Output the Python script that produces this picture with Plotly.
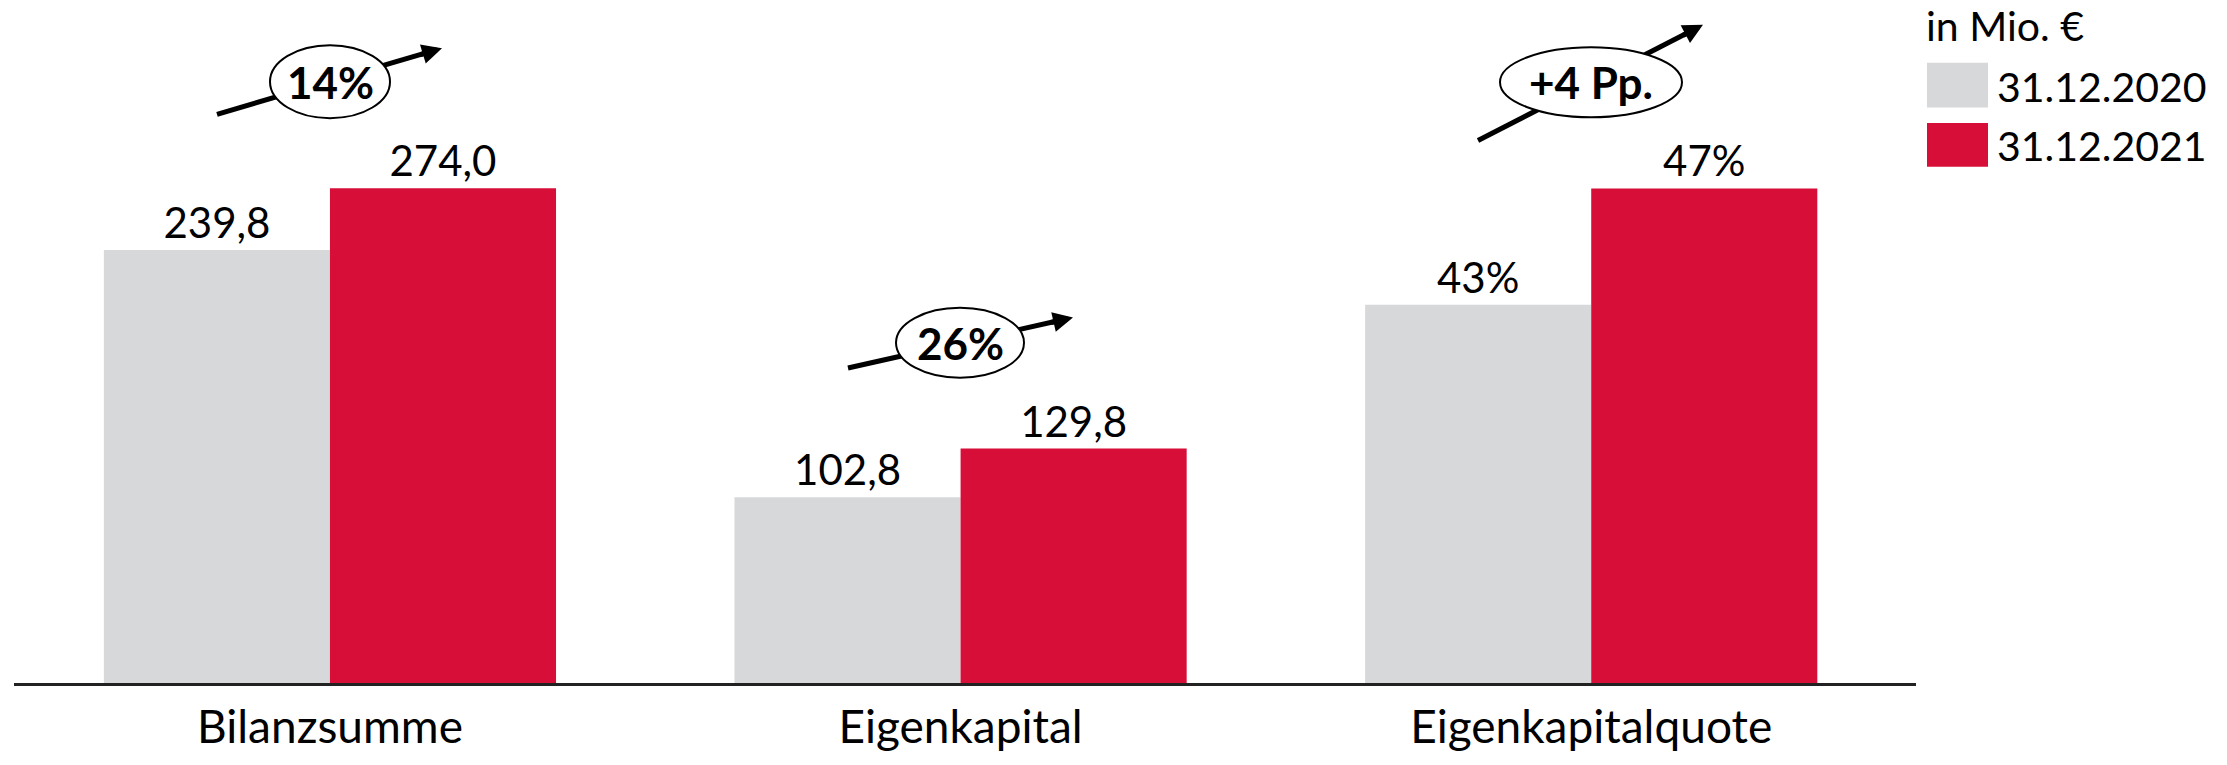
import plotly.graph_objects as go

# ---------------- data ----------------
categories = ["Bilanzsumme", "Eigenkapital", "Eigenkapitalquote"]
series_names = ["31.12.2020", "31.12.2021"]
amount_categories = ["Bilanzsumme", "Eigenkapital"]
amount_2020 = [239.8, 102.8]          # in Mio. €
amount_2021 = [274.0, 129.8]          # in Mio. €
quote_categories = ["Eigenkapitalquote"]
quote_2020 = [43]                     # in %
quote_2021 = [47]                     # in %
change_labels = ["14%", "26%", "+4 Pp."]
unit_label = "in Mio. €"

# ---------------- style ----------------
GRAY = "#D7D8DA"
RED = "#D70E37"
FONT = "Lato"
W, H = 2227, 765
L, R, T, B = 14, 311, 20, 63
PW, PH = W - L - R, H - T - B

def xp(px):
    return (px - L) / PW

def yp(py):
    return (H - B - py) / PH

fig = go.Figure()
label_font = dict(size=42, color="black", family=FONT)
fig.add_trace(go.Bar(x=amount_categories, y=amount_2020, name=series_names[0],
                     marker=dict(color=GRAY, line=dict(width=0)),
                     texttemplate="%{y:.1f}", textposition="outside",
                     outsidetextfont=label_font))
fig.add_trace(go.Bar(x=amount_categories, y=amount_2021, name=series_names[1],
                     marker=dict(color=RED, line=dict(width=0)),
                     texttemplate="%{y:.1f}", textposition="outside",
                     outsidetextfont=label_font))
fig.add_trace(go.Bar(x=quote_categories, y=quote_2020, name=series_names[0], yaxis="y2",
                     marker=dict(color=GRAY, line=dict(width=0)), showlegend=False,
                     texttemplate="%{y:.0f}%", textposition="outside",
                     outsidetextfont=label_font))
fig.add_trace(go.Bar(x=quote_categories, y=quote_2021, name=series_names[1], yaxis="y2",
                     marker=dict(color=RED, line=dict(width=0)), showlegend=False,
                     texttemplate="%{y:.0f}%", textposition="outside",
                     outsidetextfont=label_font))

shapes = []
annotations = []

# change callouts: (tail px, head px, ellipse box px)
callouts = [
    ((217, 117), (442, 49), (270, 46, 390, 121)),
    ((848, 378), (1073, 326), (896, 316, 1024, 388)),
    ((1478, 144), (1703, 25), (1500, 48, 1682, 120)),
]
for label, (tail, head, ell) in zip(change_labels, callouts):
    dx, dy = head[0] - tail[0], head[1] - tail[1]
    n = (dx * dx + dy * dy) ** 0.5
    ux, uy = dx / n, dy / n
    end = (head[0] - ux * 14, head[1] - uy * 14)
    shapes.append(dict(type="line", xref="paper", yref="paper",
                       x0=xp(tail[0]), y0=yp(tail[1]), x1=xp(end[0]), y1=yp(end[1]),
                       line=dict(color="black", width=5)))
    shapes.append(dict(type="circle", xref="paper", yref="paper",
                       x0=xp(ell[0]), x1=xp(ell[2]), y0=yp(ell[3]), y1=yp(ell[1]),
                       fillcolor="white", line=dict(color="black", width=2)))
    annotations.append(dict(xref="paper", yref="paper", x=xp(head[0]), y=yp(head[1]),
                            text="", showarrow=True, arrowhead=2, arrowsize=0.8,
                            arrowwidth=5, arrowcolor="black", standoff=0,
                            ax=-ux * 24, ay=-uy * 24))
    annotations.append(dict(xref="paper", yref="paper",
                            x=xp((ell[0] + ell[2]) / 2), y=yp((ell[1] + ell[3]) / 2),
                            text="<b>%s</b>" % label, showarrow=False,
                            xanchor="center", yanchor="middle",
                            font=dict(size=44, color="black", family=FONT)))

# custom legend
annotations.append(dict(xref="paper", yref="paper", x=xp(1924), y=yp(26),
                        text=unit_label, showarrow=False, xanchor="left", yanchor="middle",
                        font=dict(size=41, color="black", family=FONT)))
legend_rows = [(GRAY, series_names[0], 64, 110), (RED, series_names[1], 126, 171)]
for color, name, y0, y1 in legend_rows:
    shapes.append(dict(type="rect", xref="paper", yref="paper",
                       x0=xp(1927), x1=xp(1988), y0=yp(y1), y1=yp(y0),
                       fillcolor=color, line=dict(width=0)))
    annotations.append(dict(xref="paper", yref="paper", x=xp(1995), y=yp((y0 + y1) / 2 + 1),
                            text=name, showarrow=False, xanchor="left", yanchor="middle",
                            font=dict(size=41, color="black", family=FONT)))

px_per_unit = 509.0 / 274.0
px_per_pp = (509.0 - 389.3) / (quote_2021[0] - quote_2020[0])
fig.update_layout(
    width=W, height=H,
    margin=dict(l=L, r=R, t=T, b=B, pad=0),
    paper_bgcolor="white", plot_bgcolor="white",
    barmode="group", bargap=0.283, bargroupgap=0,
    separators=",.",
    showlegend=False,
    hovermode=False,
    font=dict(family=FONT, color="black", size=44),
    xaxis=dict(type="category", categoryorder="array", categoryarray=categories,
               range=[-0.501, 2.515], showline=True, linecolor="#222222", linewidth=2.5,
               ticks="", showgrid=False, zeroline=False, ticklabelstandoff=2,
               tickfont=dict(size=46, color="black", family=FONT)),
    yaxis=dict(range=[0, PH / px_per_unit], visible=False, showgrid=False, zeroline=False),
    yaxis2=dict(range=[30, 30 + PH / px_per_pp], overlaying="y", visible=False,
                showgrid=False, zeroline=False),
    shapes=shapes,
    annotations=annotations,
)

fig.write_html("out.html",
               config={"displayModeBar": False, "staticPlot": True},
               post_script="document.body.style.margin='0';document.body.style.overflow='hidden';")
